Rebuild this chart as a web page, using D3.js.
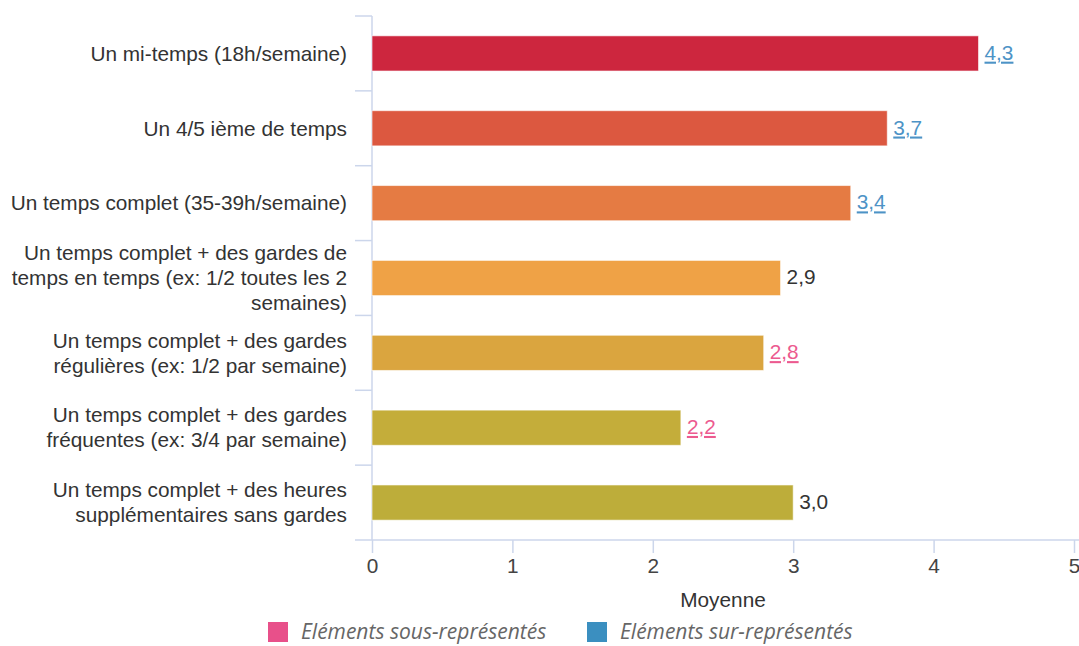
<!DOCTYPE html>
<html>
<head>
<meta charset="utf-8">
<script src="https://cdn.jsdelivr.net/npm/d3@7"></script>
<style>
  html, body { margin: 0; padding: 0; background: #fff; }
  svg { display: block; }
</style>
</head>
<body>
<svg id="chart" width="1079" height="646"></svg>
<script>
const categories = [
  "Un mi-temps (18h/semaine)",
  "Un 4/5 ième de temps",
  "Un temps complet (35-39h/semaine)",
  "Un temps complet + des gardes de\ntemps en temps (ex: 1/2 toutes les 2\nsemaines)",
  "Un temps complet + des gardes\nrégulières (ex: 1/2 par semaine)",
  "Un temps complet + des gardes\nfréquentes (ex: 3/4 par semaine)",
  "Un temps complet + des heures\nsupplémentaires sans gardes"
];
const values = [4.32, 3.67, 3.41, 2.91, 2.79, 2.2, 3.0];
// status: "sur" = over-represented, "sous" = under-represented, "" = neutral
const status = ["sur", "sur", "sur", "", "sous", "sous", ""];
const barColors = ["#cd263e", "#dc5840", "#e57b43", "#efa246", "#daa53f", "#c4ad3a", "#bdad3a"];
const xTicks = [0, 1, 2, 3, 4, 5];
const xTitle = "Moyenne";
const legendItems = ["Eléments sous-représentés", "Eléments sur-représentés"];
const legendColors = ["#e8508a", "#3b8fc0"];

(function () {
const svg = d3.select("#chart");
const pLeft = 372, pRight = 1074, pTop = 16, pBottom = 540;
const font = "'Liberation Sans', Arial, sans-serif";
const fs = 20.8;

const x = d3.scaleLinear().domain([0, 5]).range([pLeft, pRight]);
const y = d3.scaleBand().domain(categories).range([pTop, pBottom]).paddingInner(0.53).paddingOuter(0.265);
const yb = d3.scaleBand().domain(categories).range([pTop, pBottom]);
const axisColor = "#ccd6eb";

// x axis
const xAxis = svg.append("g").attr("transform", `translate(0,${pBottom})`)
  .call(d3.axisBottom(x).tickValues(xTicks).tickSize(13).tickPadding(5).tickFormat(d3.format("d")));
xAxis.select(".domain").remove();
xAxis.append("line").attr("x1", 355).attr("x2", 1079).attr("y1", 0).attr("y2", 0)
  .attr("stroke", axisColor).attr("stroke-width", 1.5);
xAxis.selectAll(".tick line").attr("stroke", axisColor).attr("stroke-width", 1.5);
xAxis.selectAll(".tick text").attr("fill", "#444").style("font-family", font).style("font-size", fs + "px");

// y axis line and band ticks
svg.append("line").attr("x1", pLeft).attr("x2", pLeft).attr("y1", pTop).attr("y2", pBottom)
  .attr("stroke", axisColor).attr("stroke-width", 1.5);
const bounds = categories.map(c => yb(c));
svg.selectAll(".ytick").data(bounds).join("line")
  .attr("x1", 355).attr("x2", pLeft).attr("y1", d => d).attr("y2", d => d)
  .attr("stroke", axisColor).attr("stroke-width", 1.5);

// category labels
const lh = 25;
categories.forEach(c => {
  const lines = c.split("\n");
  const cy = yb(c) + yb.bandwidth() / 2;
  const t = svg.append("text").attr("text-anchor", "end")
    .attr("fill", "#333").style("font-family", font).style("font-size", fs + "px");
  lines.forEach((ln, i) => {
    t.append("tspan").attr("x", 347)
      .attr("y", cy + (i - (lines.length - 1) / 2) * lh)
      .attr("dy", "0.35em").text(ln);
  });
});

// bars
svg.selectAll(".bar").data(categories).join("rect")
  .attr("x", x(0))
  .attr("y", c => y(c))
  .attr("width", (c, i) => x(values[i]) - x(0))
  .attr("height", y.bandwidth())
  .attr("fill", (c, i) => barColors[i])
  .attr("stroke", "rgba(255,255,255,0.6)").attr("stroke-width", 1);

// value labels
const fmt = v => d3.format(".1f")(v).replace(".", ",");
svg.selectAll(".val").data(categories).join("text")
  .attr("x", (c, i) => x(values[i]) + 6)
  .attr("y", c => y(c) + y.bandwidth() / 2)
  .attr("dy", "0.3em")
  .style("font-family", font).style("font-size", fs + "px")
  .attr("fill", (c, i) => status[i] === "sur" ? "#4d93c6" : status[i] === "sous" ? "#ec5a8f" : "#333")
  .style("text-decoration", (c, i) => status[i] ? "underline" : "none")
  .text((c, i) => fmt(values[i]));

// x title
svg.append("text").attr("x", (pLeft + pRight) / 2).attr("y", 600).attr("dy", "0.35em")
  .attr("text-anchor", "middle").attr("fill", "#333")
  .style("font-family", font).style("font-size", fs + "px").text(xTitle);

// legend
const legX = [268, 587];
legendItems.forEach((name, i) => {
  svg.append("rect").attr("x", legX[i]).attr("y", 622).attr("width", 20).attr("height", 20)
    .attr("fill", legendColors[i]);
  svg.append("text").attr("x", legX[i] + 33).attr("y", 632).attr("dy", "0.35em")
    .attr("fill", "#666").style("font-family", "'Open Sans', sans-serif")
    .style("font-style", "italic").style("font-size", "21px").text(name);
});
})();
</script>
</body>
</html>
